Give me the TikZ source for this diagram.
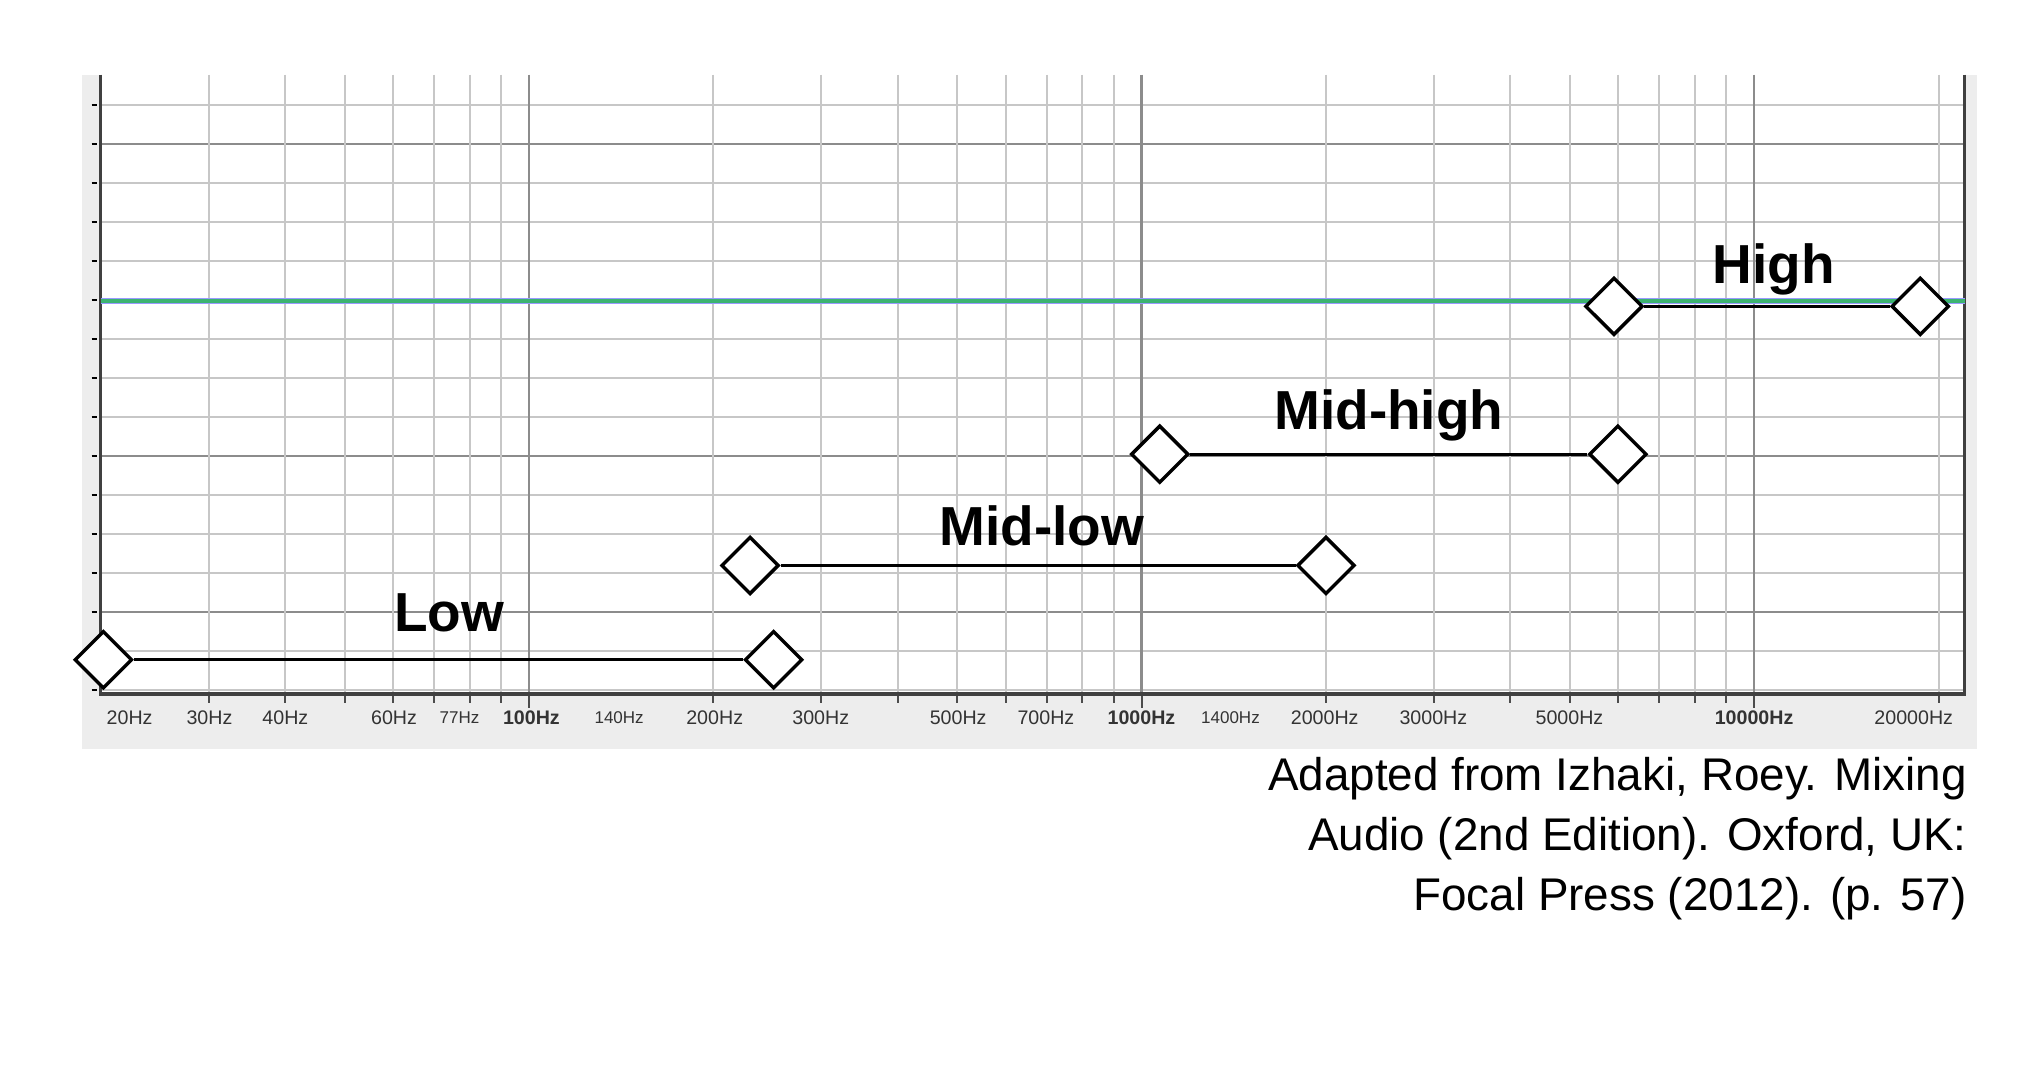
\documentclass[tikz,border=0pt]{standalone}
\usepackage{fontspec}
\setmainfont{Liberation Sans}
\usetikzlibrary{shapes.geometric}
\begin{document}
\begin{tikzpicture}[x=1pt,y=-1pt,
  grid/.style={draw=black!22,line width=1.6pt},
  darkgrid/.style={draw=black!45,line width=1.8pt},
  dmd/.style={diamond,draw=black,fill=white,line width=2.6pt,minimum width=44pt,minimum height=44pt,inner sep=0pt},
  band/.style={draw=black,line width=2.4pt},
  blab/.style={font=\fontsize{42}{46}\selectfont\bfseries},
  hz/.style={font=\fontsize{15}{16}\selectfont,text=black!80},
  captext/.style={font=\fontsize{35}{46}\selectfont,align=right,anchor=north east}]
\useasboundingbox (0,0) rectangle (1560,824);
\fill[black!7] (63,57) rectangle (1510,572);
\fill[white] (77,57) rectangle (1501,530);
% horizontal grid
\foreach \i in {0,...,15}{
  \pgfmathsetmacro{\yy}{80+\i*29.8}
  \draw[grid] (77,\yy) -- (1501,\yy);
  \draw[black,line width=1.5pt] (70,\yy) -- (74,\yy);}
\foreach \yy in {109.8,348.2,467.4}{\draw[darkgrid] (77,\yy) -- (1501,\yy);}
% vertical grid (frequency / 10)
\foreach \f in {3,4,5,6,7,8,9,20,30,40,50,60,70,80,90,200,300,400,500,600,700,800,900,2000}{
  \pgfmathsetmacro{\xx}{77+468*(log10(\f)-log10(2))}
  \draw[grid] (\xx,57) -- (\xx,530);
  \draw[black!70,line width=1.5pt] (\xx,530) -- (\xx,537);}
\foreach \f in {10,100,1000}{
  \pgfmathsetmacro{\xx}{77+468*(log10(\f)-log10(2))}
  \draw[darkgrid] (\xx,57) -- (\xx,530);
  \draw[black!70,line width=1.5pt] (\xx,530) -- (\xx,541);}
% axes
\draw[black!75,line width=2.5pt] (77,57) -- (77,532);
\draw[black!75,line width=2.5pt] (1501,57) -- (1501,532);
\draw[black!75,line width=3pt] (77,530) -- (1501,530);
% green line
\definecolor{eqgreen}{RGB}{60,179,113}
\draw[blue!40,line width=4.2pt] (77,230) -- (1501,230);
\draw[eqgreen,line width=3pt] (77,230) -- (1501,230);
% axis labels
\foreach \x/\t in {99/20Hz,160/30Hz,218/40Hz,301/60Hz,546/200Hz,627/300Hz,732/500Hz,799/700Hz,1012/2000Hz,1095/3000Hz,1199/5000Hz,1462/20000Hz}
  \node[hz] at (\x,548) {\t};
\node[hz,font=\fontsize{13}{14}\selectfont] at (351,548) {77Hz};
\node[hz,font=\fontsize{13}{14}\selectfont] at (473,548) {140Hz};
\node[hz,font=\fontsize{13}{14}\selectfont] at (940,548) {1400Hz};
\node[hz,font=\fontsize{15}{16}\selectfont\bfseries] at (406,548) {100Hz};
\node[hz,font=\fontsize{15}{16}\selectfont\bfseries] at (872,548) {1000Hz};
\node[hz,font=\fontsize{15}{16}\selectfont\bfseries] at (1340,548) {10000Hz};
% bands
\node[dmd] (l1) at (79,504) {};  \node[dmd] (l2) at (591,504) {};
\draw[band] (l1) -- (l2);
\node[dmd] (ml1) at (573,432) {}; \node[dmd] (ml2) at (1013,432) {};
\draw[band] (ml1) -- (ml2);
\node[dmd] (mh1) at (886,347) {}; \node[dmd] (mh2) at (1236,347) {};
\draw[band] (mh1) -- (mh2);
\node[dmd] (h1) at (1233,234) {}; \node[dmd] (h2) at (1467,234) {};
\draw[band] (h1) -- (h2);
\node[blab] (tl) at (343,468) {Low};
\node[blab] (tml) at (796,402) {Mid-low};
\node[blab] (tmh) at (1061,317) {Mid-high};
\node[blab] (th) at (1355,206) {High};
% caption
\node[captext] (c) at (1506,575) {Adapted from Izhaki, Roey. Mixing\\Audio (2nd Edition). Oxford, UK:\\Focal Press (2012). (p. 57)};
\end{tikzpicture}
\end{document}
